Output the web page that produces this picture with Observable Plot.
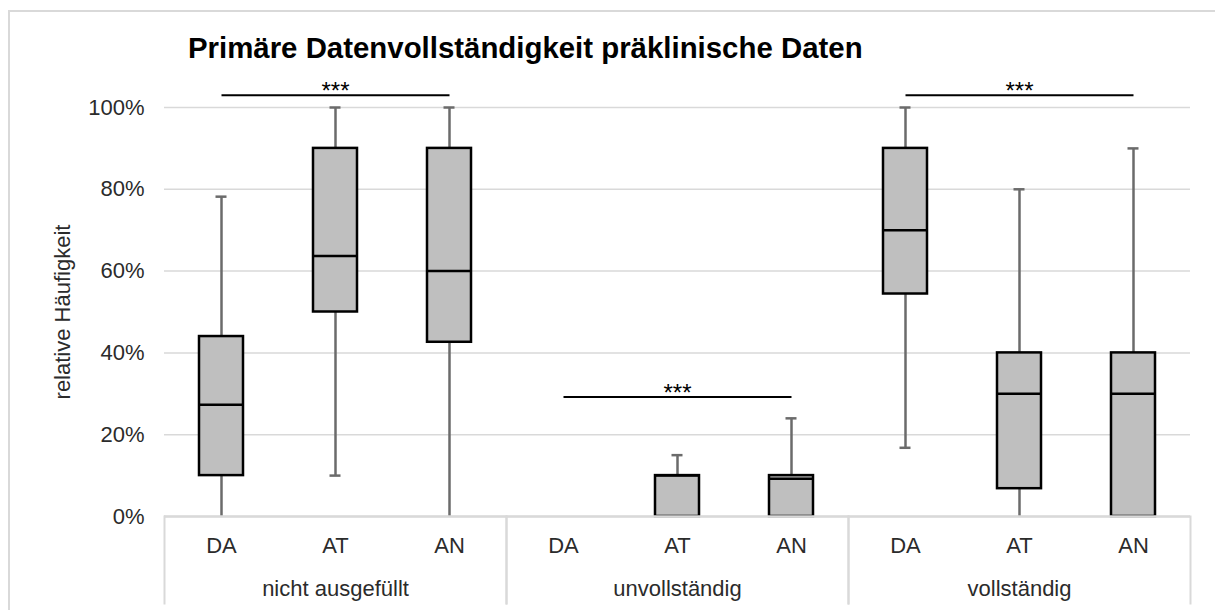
<!DOCTYPE html>
<html>
<head>
<meta charset="utf-8">
<script src="https://cdn.jsdelivr.net/npm/d3@7"></script>
<script src="https://cdn.jsdelivr.net/npm/@observablehq/plot@0.6"></script>
<style>
  html, body { margin: 0; padding: 0; background: #fff; overflow: hidden; }
  #chart { position: relative; width: 1215px; height: 610px; overflow: hidden; }
  #border { position: absolute; left: 8px; top: 10px; width: 1400px; height: 800px; border: 2px solid #d9d9d9; box-sizing: border-box; }
  #plot { position: absolute; left: 0; top: 0; }
  #title { position: absolute; left: 188px; top: 33px; margin: 0; font: bold 29.4px "Liberation Sans", Arial, sans-serif; line-height: 29.4px; color: #000; white-space: nowrap; }
</style>
</head>
<body>
<div id="chart">
  <div id="border"></div>
  <div id="plot"></div>
  <h1 id="title">Primäre Datenvollständigkeit präklinische Daten</h1>
</div>
<script>
// Groups (completeness status) and the three compared sources within each group
const groups = ["nicht ausgefüllt", "unvollständig", "vollständig"];
const categories = ["DA", "AT", "AN"];

// Box-plot statistics, one entry per group × source (group-major order)
const whiskerLow  = [0.00, 0.10, 0.00,   0.00, 0.00, 0.00,   0.168, 0.00, 0.00];
const quartile1   = [0.10, 0.50, 0.426,  0.00, 0.00, 0.00,   0.544, 0.068, 0.00];
const median      = [0.273, 0.637, 0.60, 0.00, 0.10, 0.092,  0.70, 0.30, 0.30];
const quartile3   = [0.44, 0.90, 0.90,   0.00, 0.10, 0.10,   0.90, 0.40, 0.40];
const whiskerHigh = [0.782, 1.00, 1.00,  0.00, 0.15, 0.24,   1.00, 0.80, 0.90];

// Significance brackets (DA vs. AN) per group
const sigLevel = [1.03, 0.292, 1.03];
const sigText = ["***", "***", "***"];

// Y axis ticks
const yTicks = [0, 0.2, 0.4, 0.6, 0.8, 1.0];

const rows = groups.flatMap((g, gi) => categories.map((c, ci) => {
  const i = gi * categories.length + ci;
  return {group: g, cat: c, lo: whiskerLow[i], q1: quartile1[i], med: median[i], q3: quartile3[i], hi: whiskerHigh[i]};
}));
const sig = groups.map((g, i) => ({group: g, y: sigLevel[i], text: sigText[i]}));

// Layout
const W = 1215, H = 610;
const mTop = 107, mBottom = 94, mLeft = 163, mRight = 24;
const frameH = H - mTop - mBottom;
const tableDepth = 87;          // separators reach down through the category labels
const boxInset = 35;            // box width inside each band
const capInset = 51.5;          // whisker cap width
const gray = "#d9d9d9";
const whiskerColor = "#6b6b6b";
const font = "'Liberation Sans', Arial, sans-serif";

const chart = Plot.plot({
  width: W,
  height: H,
  marginTop: mTop,
  marginBottom: mBottom,
  marginLeft: mLeft,
  marginRight: mRight,
  style: {fontFamily: font, fontSize: "22px", color: "#2b2b2b", background: "transparent", overflow: "visible"},
  fx: {domain: groups, padding: 0, label: null},
  x: {domain: categories, padding: 0, label: null},
  y: {domain: [0, 1], label: null},
  marks: [
    Plot.gridY(yTicks, {stroke: gray, strokeOpacity: 1, strokeWidth: 1.5}),
    // whiskers and caps (caps sitting on the baseline are hidden by it)
    Plot.ruleX(rows, {fx: "group", x: "cat", y1: "lo", y2: "hi", stroke: whiskerColor, strokeWidth: 2.5}),
    Plot.tickY(rows, {filter: (d) => d.hi > 0, fx: "group", x: "cat", y: "hi", stroke: whiskerColor, strokeWidth: 2.5, insetLeft: capInset, insetRight: capInset}),
    Plot.tickY(rows, {filter: (d) => d.lo > 0, fx: "group", x: "cat", y: "lo", stroke: whiskerColor, strokeWidth: 2.5, insetLeft: capInset, insetRight: capInset}),
    // interquartile boxes and medians (empty boxes are not drawn)
    Plot.barY(rows, {filter: (d) => d.q3 > d.q1, fx: "group", x: "cat", y1: "q1", y2: "q3", fill: "#bfbfbf", stroke: "#000", strokeWidth: 2.5, insetLeft: boxInset, insetRight: boxInset}),
    Plot.tickY(rows, {filter: (d) => d.q3 > d.q1, fx: "group", x: "cat", y: "med", stroke: "#000", strokeWidth: 2.5, insetLeft: boxInset, insetRight: boxInset}),
    // baseline and group separators
    Plot.ruleY([0], {stroke: gray, strokeWidth: 2.5}),
    Plot.frame({anchor: "left", stroke: gray, strokeWidth: 2, insetTop: frameH, insetBottom: -tableDepth}),
    Plot.frame({anchor: "right", stroke: gray, strokeWidth: 2, insetTop: frameH, insetBottom: -tableDepth}),
    // significance brackets
    Plot.link(sig, {fx: "group", x1: () => "DA", x2: () => "AN", y1: "y", y2: "y", stroke: "#000", strokeWidth: 2}),
    Plot.text(sig, {fx: "group", x: () => "AT", y: "y", text: "text", lineAnchor: "bottom", dy: 4, fontSize: 24, fill: "#000"}),
    // axes
    Plot.axisY({ticks: yTicks, tickFormat: d3.format(".0%"), tickSize: 0, tickPadding: 20, fontSize: 22,
      label: "relative Häufigkeit", labelAnchor: "center", labelOffset: 110, labelArrow: "none"}),
    Plot.axisX({tickSize: 0, tickPadding: 21, fontSize: 22, label: null}),
    Plot.axisFx({anchor: "bottom", tickSize: 0, tickPadding: 64, fontSize: 22, label: null})
  ]
});

document.getElementById("plot").appendChild(chart);
</script>
</body>
</html>
